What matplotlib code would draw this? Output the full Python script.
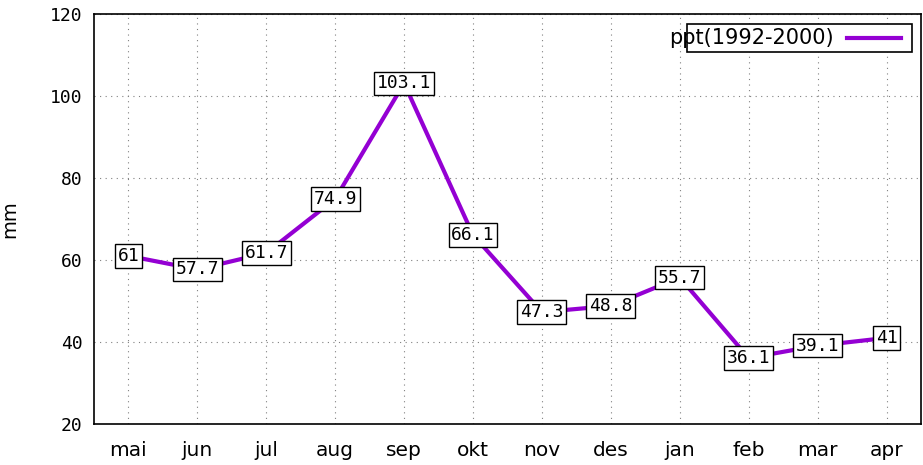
import numpy as np
import matplotlib.pyplot as plt
from matplotlib.patches import Rectangle

# nedbør per måned (mm), snitt 1992-2000
maaneder = ["mai", "jun", "jul", "aug", "sep", "okt", "nov", "des", "jan", "feb", "mar", "apr"]
ppt = [61, 57.7, 61.7, 74.9, 103.1, 66.1, 47.3, 48.8, 55.7, 36.1, 39.1, 41]
yticks = [20, 40, 60, 80, 100, 120]
farge = "#9400d3"

fig = plt.figure(figsize=(9.23, 4.65), dpi=100)
ax = fig.add_axes([0.1018, 0.0882, 0.8960, 0.8817])

x = np.arange(len(maaneder))
ax.plot(x, ppt, color=farge, lw=3, zorder=3)

# verdiene i bokser oppå linja
for xi, v in zip(x, ppt):
    ax.text(xi, v, "{:g}".format(v), ha="center", va="center",
            family="DejaVu Sans Mono", fontsize=13, zorder=4,
            bbox=dict(boxstyle="square,pad=0.15", fc="white", ec="black", lw=1))

ax.set_xlim(-0.5, 11.5)
ax.set_ylim(20, 120)
ax.set_xticks(x)
ax.set_xticklabels(maaneder, fontsize=14.5)
ax.set_yticks(yticks)
for lab in ax.get_yticklabels():
    lab.set_family("DejaVu Sans Mono")
    lab.set_fontsize(13)
ax.tick_params(length=0, pad=8)
ax.tick_params(axis="x", pad=12)
ax.grid(True, linestyle=(0, (1, 4)), color="gray", lw=0.8)
for s in ax.spines.values():
    s.set_linewidth(1.2)
ax.set_ylabel("mm", fontsize=14, labelpad=22)

# forklaring, tegnet for hånd i gnuplot-stil
ax.add_patch(Rectangle((0.717, 0.907), 0.272, 0.069, transform=ax.transAxes,
                       fc="white", ec="black", lw=1.2, zorder=5))
ax.text(0.894, 0.941, "ppt(1992-2000)", transform=ax.transAxes, ha="right",
        va="center", fontsize=15, zorder=6)
ax.plot([0.911, 0.976], [0.941, 0.941], transform=ax.transAxes, color=farge,
        lw=3, zorder=6)

fig.savefig("out.png", dpi=100)
